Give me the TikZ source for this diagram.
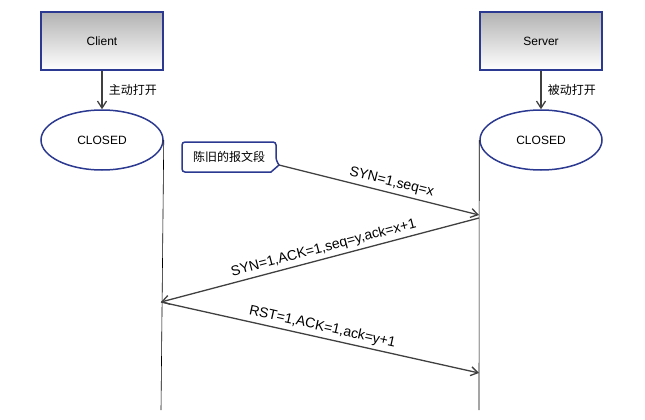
\documentclass[tikz,border=0pt]{standalone}
\usepackage{fontspec}
\setmainfont{Liberation Sans}
\newfontfamily\cjk{Noto Sans CJK SC}
\usetikzlibrary{shapes.geometric,arrows.meta,calc}
\definecolor{bd}{HTML}{2B3990}
\tikzset{
 box/.style={draw=bd,line width=1.5pt,minimum width=122pt,minimum height=58pt,top color=gray!60,bottom color=white,font=\fontsize{12}{14}\selectfont},
 st/.style={ellipse,draw=bd,line width=1.5pt,minimum width=122pt,minimum height=60pt,fill=white,font=\fontsize{12}{14}\selectfont},
 lab/.style={font=\fontsize{12}{14}\selectfont},
 ml/.style={font=\fontsize{14}{16}\selectfont},
 msg/.style={draw=gray!50!black,line width=1.3pt,-{Straight Barb[length=7pt,width=9pt]}},
 life/.style={draw=black,line width=0.6pt}
}
\begin{document}
\begin{tikzpicture}[x=1pt,y=-1pt]
\useasboundingbox (0,0) rectangle (645,420);
\node[box] (c) at (102,41) {Client};
\node[box] (s) at (541,41) {Server};
\node[st] (ce) at (102,140) {CLOSED};
\node[st] (se) at (541,140) {CLOSED};
\draw[msg] (c) -- node[right,lab,xshift=3pt]{\cjk 主动打开} (ce);
\draw[msg] (s) -- node[right,lab,xshift=3pt]{\cjk 被动打开} (se);
\coordinate (cl0) at (ce.east);
\coordinate (cl1) at (161,410);
\coordinate (sl0) at (se.west);
\coordinate (sl1) at (479,410);
\draw[life] (cl0) -- (cl1);
\draw[life] (sl0) -- (sl1);
\coordinate (p1) at (279,165);
\draw[bd,line width=1.5pt,fill=white,rounded corners=3pt] (182,142) -- (276,142) -- (276,160) [sharp corners]-- (p1) -- (271,172) [rounded corners=3pt] -- (182,172) -- cycle;
\node[lab] (cb) at (229,157) {\cjk 陈旧的报文段};
\coordinate (q1) at (479,215);
\coordinate (p2) at (479,218);
\coordinate (q2) at (161,302);
\coordinate (q3) at (479,373);
\draw[msg] (p1) -- node[sloped,above,ml,pos=0.55]{SYN=1,seq=x} (q1);
\draw[msg] (p2) -- node[sloped,above,ml,pos=0.48]{SYN=1,ACK=1,seq=y,ack=x+1} (q2);
\draw[msg] (q2) -- node[sloped,above,ml]{RST=1,ACK=1,ack=y+1} (q3);
\end{tikzpicture}
\end{document}
